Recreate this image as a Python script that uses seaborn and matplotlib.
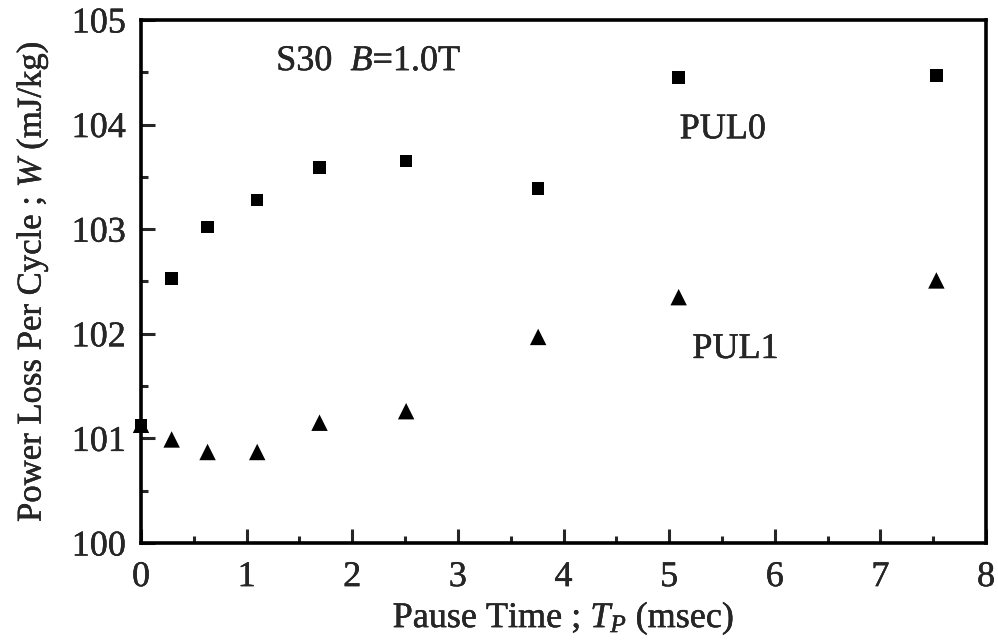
import matplotlib
matplotlib.use("Agg")
import matplotlib.pyplot as plt
import matplotlib.patheffects as pe
import seaborn as sns
import pandas as pd
from matplotlib.ticker import MultipleLocator

# Pause time (msec) and power loss per cycle (mJ/kg) for the two pulse modes
pause_time = [0, 0.29, 0.63, 1.10, 1.69, 2.51, 3.76, 5.09, 7.53]
pul0_loss = [101.13, 102.53, 103.02, 103.28, 103.59, 103.65, 103.39, 104.45, 104.47]
pul1_loss = [101.13, 100.99, 100.87, 100.87, 101.15, 101.26, 101.97, 102.35, 102.51]
series_names = ["PUL0", "PUL1"]

x_ticks = [0, 1, 2, 3, 4, 5, 6, 7, 8]
y_ticks = [100, 101, 102, 103, 104, 105]

df = pd.DataFrame({
    "tp": pause_time * 2,
    "loss": pul0_loss + pul1_loss,
    "mode": [series_names[0]] * len(pause_time) + [series_names[1]] * len(pause_time),
})

sns.set_style("ticks")
plt.rcParams["font.family"] = ["Liberation Serif", "DejaVu Serif"]
plt.rcParams["mathtext.fontset"] = "custom"
plt.rcParams["mathtext.rm"] = "Liberation Serif"
plt.rcParams["mathtext.it"] = "Liberation Serif:italic"

# slightly heavier strokes for all lettering
ink = [pe.withStroke(linewidth=0.3, foreground="black")]

fig = plt.figure(figsize=(9.98, 6.43), dpi=100)
ax = fig.add_axes([0.1413, 0.1555, 0.8467, 0.8135])

sns.scatterplot(
    data=df, x="tp", y="loss", style="mode", hue="mode",
    palette={"PUL0": "black", "PUL1": "black"},
    markers={"PUL0": "s", "PUL1": "^"},
    s=80, linewidth=0, legend=False, ax=ax, clip_on=False,
)
# triangles drawn a bit larger than squares
ax.collections[0].set_sizes([80 if m == "PUL0" else 140 for m in df["mode"]])

ax.set_xlim(0, 8)
ax.set_ylim(100, 105)
ax.set_xticks(x_ticks)
ax.set_yticks(y_ticks)
ax.xaxis.set_minor_locator(MultipleLocator(0.5))
ax.yaxis.set_minor_locator(MultipleLocator(0.5))
ax.tick_params(which="major", direction="in", length=10, width=2.2,
               labelsize=26, top=False, right=False)
ax.tick_params(axis="x", which="major", pad=13)
ax.tick_params(axis="y", which="major", pad=11)
ax.tick_params(which="minor", direction="in", length=5, width=2.2,
               top=False, right=False)
for lbl in ax.get_xticklabels() + ax.get_yticklabels():
    lbl.set_path_effects(ink)

for side in ["left", "bottom", "right", "top"]:
    ax.spines[side].set_visible(True)
    ax.spines[side].set_linewidth(2.6)
    ax.spines[side].set_color("black")

ax.set_xlabel("Pause Time ; $T_{P}$ (msec)", fontsize=26, labelpad=4,
              path_effects=ink)
ax.set_ylabel("Power Loss Per Cycle ; $W$ (mJ/kg)", fontsize=25, labelpad=15,
              path_effects=ink)

ax.text(1.28, 104.6, "S30  $B$=1.0T", fontsize=26, ha="left", va="center",
        path_effects=ink)
ax.text(5.1, 103.95, "PUL0", fontsize=26, ha="left", va="center",
        path_effects=ink)
ax.text(5.22, 101.85, "PUL1", fontsize=26, ha="left", va="center",
        path_effects=ink)

fig.savefig("out.png", dpi=100)
